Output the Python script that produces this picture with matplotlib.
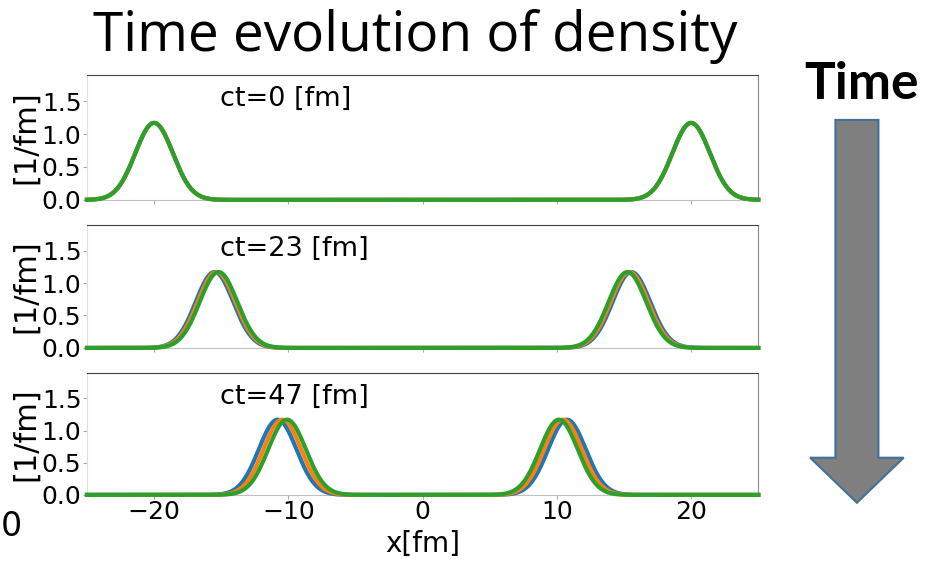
import numpy as np
import matplotlib.pyplot as plt
from matplotlib.patches import FancyArrow

# Snapshot times and the peak centres of the two colliding slabs
# for the three runs (blue, orange, green)
times = [0, 23, 47]
left_centres = [
    [-20.0, -20.0, -20.0],
    [-15.5, -15.35, -15.2],
    [-10.8, -10.45, -10.1],
]
right_centres = [
    [20.0, 20.0, 20.0],
    [15.55, 15.4, 15.25],
    [10.75, 10.45, 10.15],
]
peak_height = 1.17
peak_width = 1.4
run_colors = ["#1f77b4", "#ff7f0e", "#2ca02c"]

x = np.linspace(-25, 25, 1001)


def profile(xc):
    return peak_height * np.exp(-0.5 * ((x - xc) / peak_width) ** 2)


fig = plt.figure(figsize=(9.35, 5.63), dpi=100)

panel_boxes = [
    [0.093, 0.645, 0.718, 0.222],
    [0.093, 0.382, 0.718, 0.219],
    [0.093, 0.121, 0.718, 0.217],
]

for i, box in enumerate(panel_boxes):
    ax = fig.add_axes(box)
    for j, c in enumerate(run_colors):
        rho = profile(left_centres[i][j]) + profile(right_centres[i][j])
        ax.plot(x, rho, color=c, lw=3.0, clip_on=False, zorder=3 + j)
    ax.set_xlim(-25, 25)
    ax.set_ylim(0, 1.9)
    ax.set_yticks([0.0, 0.5, 1.0, 1.5])
    ax.set_yticklabels(["0.0", "0.5", "1.0", "1.5"])
    ax.set_xticks([-20, -10, 0, 10, 20])
    ax.tick_params(length=3, width=0.8, color="#aaaaaa", labelsize=18, pad=1)
    if i < 2:
        ax.tick_params(labelbottom=False)
    else:
        ax.set_xlabel("x[fm]", fontsize=20, labelpad=4)
    ax.set_ylabel("[1/fm]", fontsize=22, labelpad=1)
    ax.spines["top"].set_color("#444444")
    ax.spines["right"].set_color("#888888")
    ax.spines["left"].set_color("#e0e0e0")
    ax.spines["bottom"].set_color("#c0c0c0")
    ax.text(-15.1, 1.53, f"ct={times[i]} [fm]", fontsize=19.5, va="center")

fig.text(0.444, 0.935, "Time evolution of density", fontsize=39.5,
         family="Open Sans", ha="center", va="center")
fig.text(0.921, 0.85, "Time", fontsize=37, family="Lato",
         weight="bold", ha="center", va="center")

# big downward arrow beside the panels
arrow = FancyArrow(0.9165, 0.787, 0, -0.68, width=0.046, head_width=0.1,
                   head_length=0.08, length_includes_head=True,
                   transform=fig.transFigure, facecolor="#7f7f7f",
                   edgecolor="#41719c", lw=1.5)
fig.patches.append(arrow)

fig.text(0.001, 0.065, "0", fontsize=24, ha="left", va="center")

fig.savefig("out.png", dpi=100)
